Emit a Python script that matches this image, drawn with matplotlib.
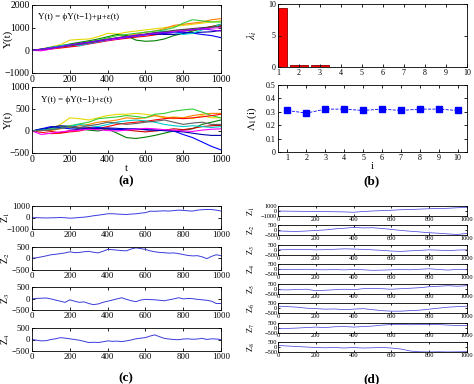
import numpy as np
import matplotlib
matplotlib.use("Agg")
import matplotlib.pyplot as plt

plt.rcParams['font.family'] = ['Liberation Serif', 'DejaVu Serif']
plt.rcParams['mathtext.fontset'] = 'stix'

# ---------------- data ----------------
t50 = np.arange(0, 1001, 50)
t25 = np.arange(0, 1001, 25)

# (a) top: Y(t) = phi Y(t-1) + mu + eps(t)
a_top_colors = ['#e6d800', '#ff8000', '#008000', '#33cc33', '#ff0000', '#0000ff',
                '#0000aa', '#00cccc', '#ff00ff', '#404040', '#8000ff']
a_top_series = [
    [0, 60, 150, 250, 450, 480, 500, 600, 750, 720, 800, 850, 900, 950, 1000, 1050, 1100, 1150, 1200, 1250, 1300],
    [0, 40, 100, 180, 250, 300, 400, 450, 500, 550, 650, 700, 800, 850, 950, 1100, 1150, 1200, 1250, 1350, 1400],
    [0, 50, 120, 200, 280, 350, 420, 500, 600, 700, 650, 450, 400, 420, 500, 650, 750, 850, 950, 1050, 1150],
    [0, 30, 100, 150, 220, 300, 380, 450, 550, 650, 700, 750, 800, 850, 900, 1000, 1200, 1350, 1300, 1250, 1250],
    [0, 20, 60, 100, 150, 200, 280, 350, 420, 480, 530, 580, 620, 680, 750, 800, 850, 900, 950, 1050, 1100],
    [0, 30, 100, 180, 200, 250, 300, 380, 450, 500, 560, 620, 680, 720, 750, 780, 800, 760, 700, 650, 560],
    [0, 50, 130, 160, 220, 300, 350, 420, 480, 540, 600, 650, 700, 720, 700, 700, 750, 780, 800, 820, 880],
    [0, 40, 120, 200, 250, 200, 300, 380, 450, 550, 600, 650, 700, 780, 850, 800, 700, 750, 900, 1000, 1150],
    [0, -20, 50, 150, 200, 260, 320, 400, 450, 500, 580, 640, 700, 750, 800, 850, 900, 920, 950, 980, 1000],
    [0, 40, 90, 150, 200, 270, 330, 400, 480, 550, 600, 650, 720, 780, 820, 880, 920, 960, 1000, 1030, 1050],
    [0, 50, 100, 160, 240, 300, 360, 420, 480, 540, 600, 660, 700, 760, 780, 800, 850, 900, 950, 900, 850],
]

# (a) bottom: Y(t) = phi Y(t-1) + eps(t)
a_bot_colors = ['#e6d800', '#ff8000', '#008000', '#33cc33', '#ff0000', '#cc0000',
                '#0000ff', '#0000aa', '#00cccc', '#ff00ff', '#606060']
a_bot_series = [
    [0, 20, 50, 150, 300, 280, 250, 300, 350, 380, 380, 400, 380, 350, 300, 320, 300, 280, 350, 300, 300],
    [0, 30, 10, 50, 80, 120, 150, 200, 220, 250, 300, 280, 300, 350, 320, 280, 300, 350, 380, 400, 400],
    [0, 50, 30, 80, 100, 50, 20, 0, 50, -50, -150, -170, -140, -100, -50, 0, 20, 50, 150, 200, 250],
    [0, 20, 60, 100, 120, 160, 200, 280, 300, 320, 350, 330, 300, 380, 400, 450, 480, 500, 430, 350, 300],
    [0, -30, -60, -50, -20, 0, 50, 60, 100, 150, 180, 200, 220, 250, 280, 300, 280, 300, 320, 350, 380],
    [0, 20, -10, -40, 10, 40, 80, 60, 50, 30, 20, 0, -20, 0, 20, 50, 30, 60, 100, 120, 130],
    [0, 50, 100, 80, 50, 40, 60, 80, 50, 30, 40, 50, 30, 20, 10, 0, -80, -150, -250, -350, -430],
    [0, 30, 80, 120, 100, 80, 60, 50, 70, 60, 50, 40, 30, 20, 10, 0, -20, -50, -80, -100, -100],
    [0, 20, 40, 60, 100, 150, 120, 100, 150, 200, 230, 250, 230, 200, 150, 120, 100, 120, 100, 80, 100],
    [0, -80, -50, -20, 0, 20, 40, 30, 10, 0, 20, 40, 60, 50, 30, 20, 0, -10, 20, 40, 50],
    [0, 10, 30, 60, 100, 80, 120, 150, 200, 180, 150, 170, 200, 220, 250, 200, 150, 180, 200, 150, 150],
]

# (b) eigenvalues and first eigenvector loadings
b_idx = [1, 2, 3, 4, 5, 6, 7, 8, 9, 10]
b_lambda = [9.3, 0.25, 0.25, 0.05, 0.02, 0.01, 0.01, 0.01, 0.01, 0.01]
b_loading = [0.31, 0.29, 0.32, 0.32, 0.31, 0.32, 0.31, 0.32, 0.32, 0.31]

# (c) principal components Z1..Z4
c_Z = [
    [-20, -10, -30, -40, -30, -20, 0, -20, -60, -40, 0, 30, 80, 150, 200, 260, 320, 330, 300, 280, 260,
     300, 320, 380, 420, 550, 540, 560, 580, 560, 600, 640, 620, 580, 560, 640, 680, 700, 690, 640, 560],
    [0, 20, 60, 100, 150, 170, 200, 230, 280, 240, 250, 280, 300, 260, 230, 300, 380, 370, 350, 330, 320,
     400, 450, 420, 380, 320, 280, 250, 240, 220, 230, 200, 160, 120, 100, 110, 60, -20, 80, 150, 110],
    [0, 20, 30, 40, 0, -50, -100, -150, -40, -100, -150, -130, -200, -250, -220, -150, -100, -50, 0, 50, -20,
     -80, -120, -50, -20, -30, -40, -60, -80, -40, 0, 50, 0, 20, 10, -20, -40, -60, -100, -200, -200],
    [0, -30, -60, -50, 0, 30, 80, 60, 30, 0, -30, -80, -130, -120, -130, -100, -60, -80, -70, -90, -60,
     -20, 30, 60, 80, 150, 200, 120, 50, 20, 0, -10, 20, 30, 10, 20, 50, 0, 30, 20, 0],
]
c_ylims = [(-1000, 1000), (-500, 500), (-500, 500), (-500, 500)]

# (d) principal components Z1..Z8
d_Z = [
    [0, -30, -50, -80, -100, -120, -150, -180, -250, -100, 0, 80, 150, 250, 300, 380, 450, 500, 550, 650, 700],
    [-50, -80, -100, -60, 0, 50, 150, 220, 300, 250, 270, 200, 100, 0, -80, -150, -230, -280, -350, -400, -300],
    [0, 20, 50, 30, 0, 20, 60, 100, 80, 50, 0, -50, -120, -150, -100, -50, 0, -30, -80, -20, 0],
    [0, -30, -20, 0, -40, -50, -30, -60, -20, -50, -100, -80, -50, -20, -50, 0, 50, -20, -80, 0, -50],
    [-100, -120, -80, -50, -200, -150, -100, -50, -100, 0, 20, 0, -50, 0, 50, 100, 200, 250, 300, 250, 300],
    [200, 150, 100, 0, -50, -100, -80, -150, -100, -50, -150, -250, -300, -300, -250, -200, -100, 0, 100, 150, 200],
    [-100, -80, -50, 0, 50, 0, 80, 100, 50, 100, 150, 250, 300, 320, 280, 300, 320, 300, 250, 200, 200],
    [150, 100, 50, 0, -50, -80, -50, -100, -50, -100, -80, -50, -100, -200, -400, -480, -495, -480, -495, -485, -470],
]
d_ylims = [(-1000, 1000)] + [(-500, 500)] * 7

# ---------------- layout ----------------
W, H = 474, 384
fig = plt.figure(figsize=(W / 100, H / 100), dpi=100)


def add_ax(x0, y0, x1, y1):
    return fig.add_axes([x0 / W, 1 - y1 / H, (x1 - x0) / W, (y1 - y0) / H])


def style(ax, fs, lw=0.6, tl=2.5):
    ax.tick_params(direction='in', top=True, right=True, labelsize=fs,
                   length=tl, width=lw, pad=1.5)
    for s in ax.spines.values():
        s.set_linewidth(lw)


line_blue = '#3b3bdb'

# (a) top
ax = add_ax(32, 5, 221, 73)
for ys, c in zip(a_top_series, a_top_colors):
    ax.plot(t50, ys, color=c, lw=0.8)
ax.set_xlim(0, 1000)
ax.set_ylim(-1000, 2000)
ax.set_yticks([-1000, 0, 1000, 2000])
ax.set_xticks([0, 200, 400, 600, 800, 1000])
style(ax, 7)
ax.set_ylabel('Y(t)', fontsize=8)
ax.yaxis.set_label_coords(-0.1, 0.5)
ax.text(0.03, 0.83, 'Y(t) = \u03d5Y(t\u22121)+\u03bc+\u03b5(t)', transform=ax.transAxes,
        fontsize=6.5, va='center', ha='left')

# (a) bottom
ax = add_ax(32, 87, 221, 153)
for ys, c in zip(a_bot_series, a_bot_colors):
    ax.plot(t50, ys, color=c, lw=0.8)
ax.set_xlim(0, 1000)
ax.set_ylim(-500, 1000)
ax.set_yticks([-500, 0, 500, 1000])
ax.set_xticks([0, 200, 400, 600, 800, 1000])
style(ax, 7)
ax.set_ylabel('Y(t)', fontsize=8)
ax.yaxis.set_label_coords(-0.1, 0.5)
ax.set_xlabel('t', fontsize=8, labelpad=0)
ax.text(0.045, 0.8, 'Y(t) = \u03d5Y(t\u22121)+\u03b5(t)', transform=ax.transAxes,
        fontsize=6.5, va='center', ha='left')

# (b) top
ax = add_ax(278, 4, 467, 67)
ax.bar(b_idx, b_lambda, width=0.87, color='#ff0000', edgecolor='#8b0000', linewidth=0.6)
ax.set_xlim(1, 10)
ax.set_ylim(0, 10)
ax.set_yticks([0, 5, 10])
ax.set_xticks(b_idx)
style(ax, 5.8)
ax.set_ylabel(r'$\lambda_i$', fontsize=8)
ax.yaxis.set_label_coords(-0.1, 0.5)

# (b) bottom
ax = add_ax(278, 85, 467, 152)
ax.plot(b_idx, b_loading, color='#0000ff', ls='--', lw=0.6, marker='s', ms=4)
ax.set_xlim(0.5, 10.5)
ax.set_ylim(0, 0.5)
ax.set_yticks([0, 0.1, 0.2, 0.3, 0.4, 0.5])
ax.set_yticklabels(['0', '0.1', '0.2', '0.3', '0.4', '0.5'])
ax.set_xticks(b_idx)
style(ax, 5.8)
ax.set_ylabel(r'$\Lambda_1$(i)', fontsize=8)
ax.yaxis.set_label_coords(-0.1, 0.5)
ax.set_xlabel('i', fontsize=8, labelpad=0)

# (c)
c_tops = [206, 246.7, 287.4, 328]
for k, (ys, yl) in enumerate(zip(c_Z, c_ylims)):
    ax = add_ax(32, c_tops[k], 221, c_tops[k] + 23)
    ax.plot(t25, ys, color=line_blue, lw=0.7)
    ax.set_xlim(0, 1000)
    ax.set_ylim(*yl)
    ax.set_yticks([yl[0], 0, yl[1]])
    ax.set_xticks([0, 200, 400, 600, 800, 1000])
    style(ax, 6.3, tl=2)
    ax.set_ylabel('Z$_{%d}$' % (k + 1), fontsize=7)
    ax.yaxis.set_label_coords(-0.105, 0.5)

# (d)
for k, (ys, yl) in enumerate(zip(d_Z, d_ylims)):
    top = 206 + k * 19.43
    ax = add_ax(278, top, 467, top + 10)
    ax.plot(t50, ys, color=line_blue, lw=0.5)
    ax.set_xlim(0, 1000)
    ax.set_ylim(*yl)
    ax.set_yticks([yl[0], 0, yl[1]])
    ax.set_xticks([0, 200, 400, 600, 800, 1000])
    style(ax, 4.6, tl=1.5)
    ax.tick_params(pad=0.5)
    ax.set_ylabel('Z$_{%d}$' % (k + 1), fontsize=6)
    ax.yaxis.set_label_coords(-0.11, 0.5)

# panel labels
for x, y, s in [(126, 181, '(a)'), (372, 181, '(b)'), (126, 378, '(c)'), (372, 379, '(d)')]:
    fig.text(x / W, 1 - y / H, s, fontsize=9.5, fontweight='bold', ha='center', va='center')

fig.savefig('out.png', dpi=100)
